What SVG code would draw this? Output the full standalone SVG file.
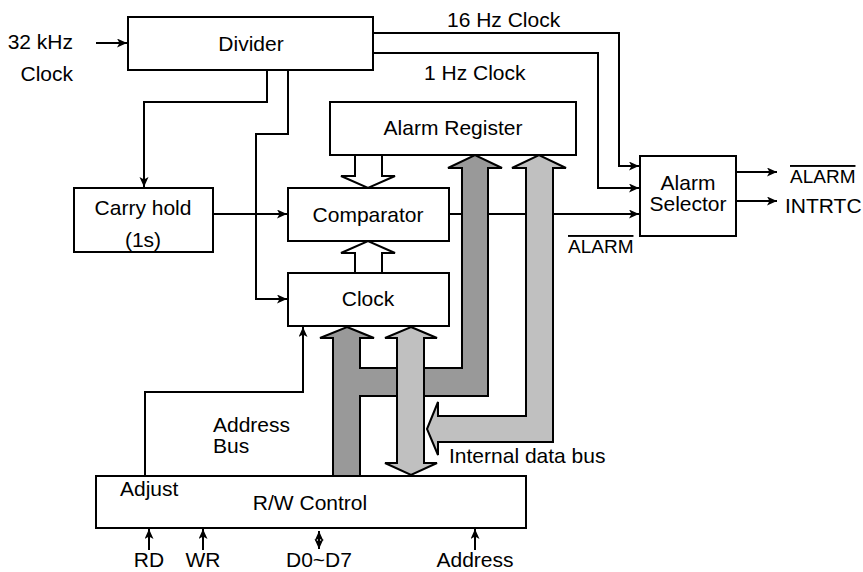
<svg xmlns="http://www.w3.org/2000/svg" width="863" height="572" viewBox="0 0 863 572">
<style>
text{font-family:"Liberation Sans",Arial,sans-serif;font-size:21px;fill:#000}
.c{text-anchor:middle}
.box{fill:#fff;stroke:#000;stroke-width:2}
.w{fill:none;stroke:#000;stroke-width:2}
.arr{marker-end:url(#ah)}
.hol{fill:#fff;stroke:#000;stroke-width:2;stroke-linejoin:miter}
.dk{fill:#999;stroke:#000;stroke-width:2}
.lt{fill:#c0c0c0;stroke:#000;stroke-width:2}
.ov{font-size:19px;text-decoration:overline}
</style>
<defs>
<marker id="ah" markerUnits="userSpaceOnUse" markerWidth="12" markerHeight="10" refX="10" refY="4.5" orient="auto-start-reverse">
<path d="M0,0 L10,4.5 L0,9 L2.5,4.5 Z" fill="#000"/>
</marker>
</defs>
<g id="connectors">
<polyline class="w arr" points="96,43 127,43"/>
<polyline class="w arr" points="373,33 619,33 619,166 639,166"/>
<polyline class="w arr" points="373,53 598,53 598,188 639,188"/>
<polyline class="w arr" points="449,214 639,214"/>
<polyline class="w arr" points="736,172 777,172"/>
<polyline class="w arr" points="736,201 777,201"/>
<polyline class="w arr" points="267,70 267,102 144,102 144,187"/>
<polyline class="w arr" points="288,70 288,134 256,134 256,299 287,299"/>
<polyline class="w arr" points="213,214 287,214"/>
<polyline class="w arr" points="145,476 145,392 303,392 303,327"/>
<polyline class="w arr" points="149,550 149,529"/>
<polyline class="w arr" points="203,550 203,529"/>
<polyline class="w arr" points="475,550 475,529"/>
<line class="w" x1="319" y1="531" x2="319" y2="549" marker-start="url(#ah)" marker-end="url(#ah)"/>
<polygon class="hol" points="355,155 355,176 341,176 368,188 395,176 382,176 382,155"/>
<polygon class="hol" points="355,273 355,253 341,253 368,241 395,253 382,253 382,273"/>
<polygon class="dk" points="347,327 374,338 360,338 360,368 462,368 462,168 448,168 475,155 502,168 488,168 488,396 360,396 360,476 333,476 333,338 320,338"/>
<polygon class="lt" points="411,327 437,338 424,338 424,463 437,463 411,475 385,463 397,463 397,338 385,338"/>
<polygon class="lt" points="427,429 438,402 438,416 526,416 526,168 512,168 539,155 566,168 553,168 553,442 438,442 438,455"/>
</g>
<g id="divider"><rect class="box" x="128" y="17" width="245" height="53"/><text class="c" x="251" y="51">Divider</text></g>
<g id="alarm-register"><rect class="box" x="330" y="102" width="246" height="53"/><text class="c" x="453" y="135">Alarm Register</text></g>
<g id="carry-hold"><rect class="box" x="74" y="188" width="139" height="64"/><text class="c" x="143" y="215">Carry hold</text><text class="c" x="143" y="247">(1s)</text></g>
<g id="comparator"><rect class="box" x="288" y="188" width="161" height="53"/><text class="c" x="368" y="222">Comparator</text></g>
<g id="clock"><rect class="box" x="288" y="273" width="161" height="53"/><text class="c" x="368" y="306">Clock</text></g>
<g id="alarm-selector"><rect class="box" x="640" y="156" width="96" height="80"/><text class="c" x="688" y="190">Alarm</text><text class="c" x="688" y="211">Selector</text></g>
<g id="rw-control"><rect class="box" x="96" y="476" width="430" height="52"/><text x="120" y="496">Adjust</text><text class="c" x="310" y="510">R/W Control</text></g>
<g id="labels">
<text x="73" y="49" text-anchor="end">32 kHz</text>
<text x="73" y="81" text-anchor="end">Clock</text>
<text x="447" y="27">16 Hz Clock</text>
<text x="424" y="80">1 Hz Clock</text>
<text class="ov" x="790" y="183">ALARM</text>
<text x="785" y="213">INTRTC</text>
<text class="ov" x="568" y="253">ALARM</text>
<text x="213" y="432">Address</text>
<text x="213" y="453">Bus</text>
<text x="449" y="463">Internal data bus</text>
<text class="c" x="149" y="567">RD</text>
<text class="c" x="203" y="567">WR</text>
<text class="c" x="319" y="567">D0~D7</text>
<text class="c" x="475" y="567">Address</text>
</g>
</svg>
